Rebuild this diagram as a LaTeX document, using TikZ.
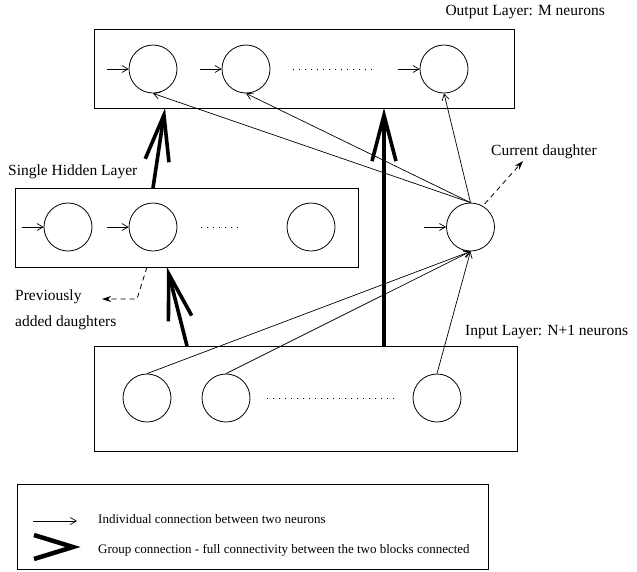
\documentclass[tikz,border=0pt]{standalone}
\usepackage{fontspec}
\setmainfont{Liberation Serif}
\usetikzlibrary{arrows.meta}
\begin{document}
\begin{tikzpicture}[x=1pt,y=-1pt,
  neuron/.style={draw,circle,minimum size=48pt,inner sep=0pt,line width=0.8pt},
  blockbox/.style={draw,rectangle,inner sep=0pt,line width=0.9pt},
  ia/.style={line width=0.7pt,-{Straight Barb[length=6pt,width=7pt]}},
  ga/.style={line width=3.6pt,-{Straight Barb[length=46pt,width=24pt]}},
  da/.style={line width=0.8pt,dash pattern=on 5pt off 4pt,-{Stealth[length=9pt,width=6pt]}},
  dots/.style={line width=0.8pt,dash pattern=on 0.8pt off 5.2pt},
  lbl/.style={font=\fontsize{15.5}{18}\selectfont,inner sep=0pt},
  leg/.style={font=\fontsize{13}{15}\selectfont,inner sep=0pt,anchor=base west}]
\useasboundingbox (0,0) rectangle (637,571);

% blocks
\node[blockbox,minimum width=420pt,minimum height=79pt] (outbox) at (304,68.5) {};
\node[blockbox,minimum width=343pt,minimum height=79pt] (hidbox) at (186.5,227.5) {};
\node[blockbox,minimum width=423pt,minimum height=105pt] (inbox) at (305.5,398.5) {};
\node[blockbox,minimum width=471pt,minimum height=85pt] (legbox) at (252.5,526.5) {};

% output layer neurons
\node[neuron] (o1) at (153,69) {};
\node[neuron] (o2) at (246,69) {};
\node[neuron] (o3) at (444,69) {};
\coordinate (od1) at (293,69);
\coordinate (od2) at (372,69);
\draw[dots] (od1) -- (od2);

% hidden layer neurons
\node[neuron] (h1) at (68,227) {};
\node[neuron] (h2) at (153,227) {};
\node[neuron] (h3) at (311,227) {};
\coordinate (hd1) at (201,227);
\coordinate (hd2) at (242,227);
\draw[dots] (hd1) -- (hd2);

% current daughter
\node[neuron] (cd) at (470.5,227) {};

% input layer neurons
\node[neuron] (i1) at (147,398) {};
\node[neuron] (i2) at (226,398) {};
\node[neuron] (i3) at (437,398) {};
\coordinate (id1) at (267,398);
\coordinate (id2) at (397,398);
\draw[dots] (id1) -- (id2);

% incoming small arrows
\foreach \n in {o1,o2,o3,h1,h2,cd}
  \draw[ia] ([xshift=-22pt]\n.west) -- (\n.west);

% individual connections
\draw[ia] (cd.north) -- (o1.south);
\draw[ia] (cd.north) -- (o2.south);
\draw[ia] (cd.north) -- (o3.south);
\draw[ia] (i1.north) -- (cd.south);
\draw[ia] (i2.north) -- (cd.south);
\draw[ia] (i3.north) -- (cd.south);

% group connections
\coordinate (hOut) at (153,188);
\coordinate (oIn1) at (165,108);
\coordinate (iOut1) at (187,346);
\coordinate (hIn) at (167,267);
\coordinate (iOut2) at (384,346);
\coordinate (oIn2) at (384,108);
\draw[ga] (hOut) -- (oIn1);
\draw[ga] (iOut1) -- (hIn);
\draw[ga] (iOut2) -- (oIn2);

% dashed arrows
\coordinate (cdEnd) at (523,161);
\draw[da] ([shift={(2pt,2pt)}]cd.60) -- (cdEnd);
\coordinate (pdStart) at (147,267);
\coordinate (pdBend) at (137,299);
\coordinate (pdEnd) at (102,299);
\draw[da] (pdStart) -- (pdBend) -- (pdEnd);

% labels
\node[lbl,anchor=base east] (tOut) at (605,15.5) {Output Layer: M neurons};
\node[lbl,anchor=base west] (tHid) at (8,175) {Single Hidden Layer};
\node[lbl,anchor=base west] (tCur) at (491,155.5) {Current daughter};
\node[lbl,anchor=base west] (tIn) at (465,335) {Input Layer: N+1 neurons};
\node[lbl,anchor=base west] (tPrev1) at (15,300.5) {Previously};
\node[lbl,anchor=base west] (tPrev2) at (15,326.5) {added daughters};

% legend
\coordinate (l1a) at (33,521);
\coordinate (l1b) at (77,521);
\draw[ia] (l1a) -- (l1b);
\coordinate (l2top) at (34,535);
\coordinate (l2tip) at (73,547);
\coordinate (l2bot) at (34,559);
\draw[line width=4.5pt,line join=miter,miter limit=20] (l2top) -- (l2tip) -- (l2bot);
\node[leg] (lt1) at (98,523) {Individual connection between two neurons};
\node[leg] (lt2) at (98,553) {Group connection - full connectivity between the two blocks connected};
\end{tikzpicture}
\end{document}
